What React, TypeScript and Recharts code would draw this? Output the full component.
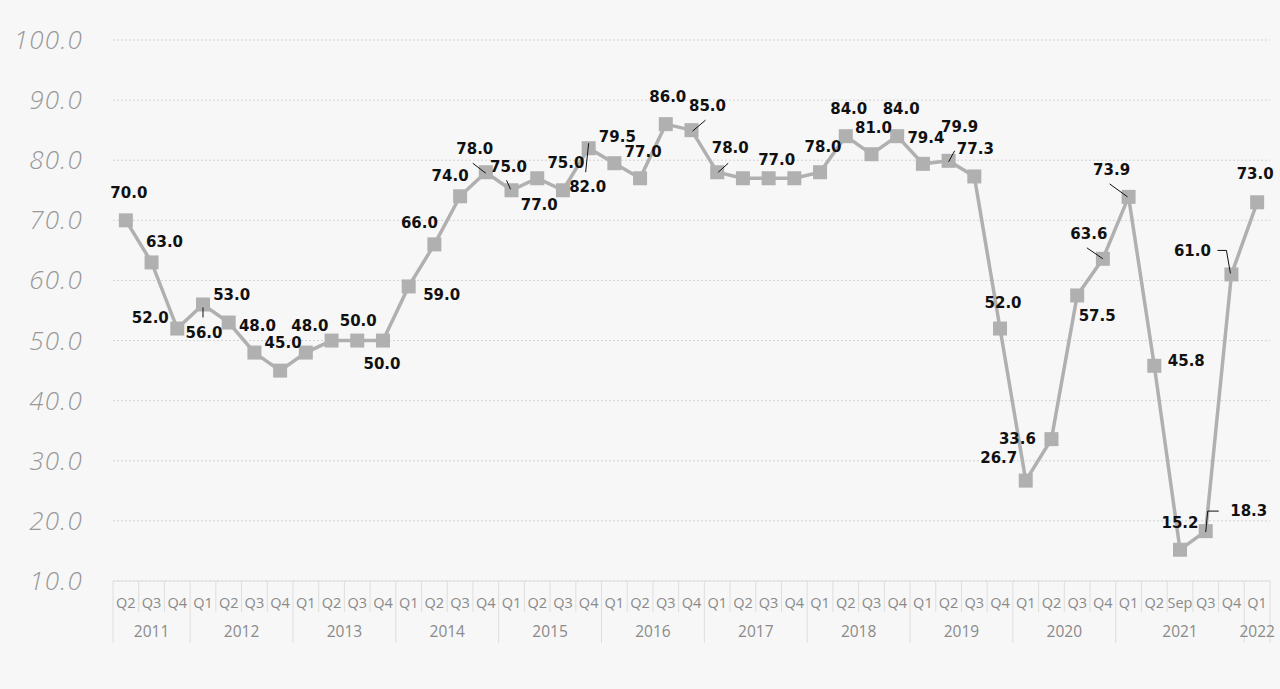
import { LineChart, Line, XAxis, YAxis, CartesianGrid } from 'recharts';

const quarters = [
  'Q2', 'Q3', 'Q4',
  'Q1', 'Q2', 'Q3', 'Q4',
  'Q1', 'Q2', 'Q3', 'Q4',
  'Q1', 'Q2', 'Q3', 'Q4',
  'Q1', 'Q2', 'Q3', 'Q4',
  'Q1', 'Q2', 'Q3', 'Q4',
  'Q1', 'Q2', 'Q3', 'Q4',
  'Q1', 'Q2', 'Q3', 'Q4',
  'Q1', 'Q2', 'Q3', 'Q4',
  'Q1', 'Q2', 'Q3', 'Q4',
  'Q1', 'Q2', 'Sep', 'Q3', 'Q4',
  'Q1',
];

const years = [
  '2011', '2011', '2011',
  '2012', '2012', '2012', '2012',
  '2013', '2013', '2013', '2013',
  '2014', '2014', '2014', '2014',
  '2015', '2015', '2015', '2015',
  '2016', '2016', '2016', '2016',
  '2017', '2017', '2017', '2017',
  '2018', '2018', '2018', '2018',
  '2019', '2019', '2019', '2019',
  '2020', '2020', '2020', '2020',
  '2021', '2021', '2021', '2021', '2021',
  '2022',
];

const values = [
  70.0, 63.0, 52.0,
  56.0, 53.0, 48.0, 45.0,
  48.0, 50.0, 50.0, 50.0,
  59.0, 66.0, 74.0, 78.0,
  75.0, 77.0, 75.0, 82.0,
  79.5, 77.0, 86.0, 85.0,
  78.0, 77.0, 77.0, 77.0,
  78.0, 84.0, 81.0, 84.0,
  79.4, 79.9, 77.3, 52.0,
  26.7, 33.6, 57.5, 63.6,
  73.9, 45.8, 15.2, 18.3, 61.0,
  73.0,
];

const yTicks = [10, 20, 30, 40, 50, 60, 70, 80, 90, 100];

// label placement (offset of label centre from the marker), null = hidden
const labelOffsets: ([number, number] | null)[] = [
  [3, -27], [13, -20], [-27, -11],
  [1, 29], [3, -28], [3, -27], [3, -28],
  [4, -27], null, [1, -20], [-1, 23],
  [33, 9], [-15, -21], [-10, -20], [-11, -23],
  [-3, -23], [2, 27], [3, -27], [-1, 39],
  [3, -26], [3, -26], [2, -27], [16, -24],
  [13, -24], null, [8, -18], null,
  [3, -25], [3, -27], [2, -26], [4, -27],
  [3, -26], [11, -34], [1, -27], [3, -26],
  [-27, -23], [-34, 0], [20, 21], [-14, -25],
  [-17, -27], [32, -5], [0, -27], [43, -20], [-39, -23],
  [-2, -28],
];

// leader lines, points relative to the marker
const leaders: Record<number, [number, number][]> = {
  3: [[0, 3], [0, 13]],
  14: [[-13, -9], [0, 1]],
  15: [[-5, -10], [-1, -1]],
  18: [[0, -5], [-3, 24]],
  22: [[1, 1], [14, -10]],
  23: [[1, 0], [11, -9]],
  32: [[0, 1], [6, -10]],
  38: [[-16, -11], [0, 0]],
  39: [[-19, -13], [-1, 0]],
  42: [[0, 1], [2, -20], [13, -20]],
  43: [[-14, -24], [-5, -24], [-1, -1]],
};

const data = values.map((v, i) => ({ key: `${years[i]}-${quarters[i]}-${i}`, q: quarters[i], year: years[i], value: v }));

const WIDTH = 1280;
const HEIGHT = 689;
const PLOT_LEFT = 113;
const PLOT_RIGHT = 1270;
const PLOT_BOTTOM = 581;
const BAND = (PLOT_RIGHT - PLOT_LEFT) / values.length;
const GRAY = '#b0b0b0';
const LINE_LIGHT = '#dedede';

const YTick = ({ y, payload }: any) => (
  <text
    x={83}
    y={y + 9}
    textAnchor="end"
    fontFamily="'Open Sans', sans-serif"
    fontStyle="italic"
    fontWeight={300}
    fontSize={26}
    letterSpacing={1.2}
    fill="#999999"
  >
    {payload.value.toFixed(1)}
  </text>
);

const XTick = ({ x, payload }: any) => {
  const i = payload.index;
  const left = x - BAND / 2;
  const yearStart = i === 0 || years[i] !== years[i - 1];
  let yearLabel = null;
  if (yearStart) {
    let n = 0;
    while (i + n < years.length && years[i + n] === years[i]) n++;
    yearLabel = (
      <text x={left + (n * BAND) / 2} y={637} textAnchor="middle" fontFamily="'Open Sans', sans-serif" fontSize={15.5} fill="#8a8a8a">
        {years[i]}
      </text>
    );
  }
  return (
    <g>
      <line x1={left} x2={left} y1={PLOT_BOTTOM} y2={yearStart ? 643 : 612} stroke={LINE_LIGHT} strokeWidth={1} />
      {i === years.length - 1 && (
        <line x1={left + BAND} x2={left + BAND} y1={PLOT_BOTTOM} y2={643} stroke={LINE_LIGHT} strokeWidth={1} />
      )}
      <text x={x} y={607.5} textAnchor="middle" fontFamily="'Open Sans', sans-serif" fontSize={14.5} fill="#8a8a8a">
        {quarters[i]}
      </text>
      {yearLabel}
    </g>
  );
};

const SquareDot = ({ cx, cy, index }: any) => (
  <rect key={`dot-${index}`} x={cx - 7} y={cy - 7} width={14} height={14} fill={GRAY} />
);

const ValueLabel = ({ x, y, index, value }: any) => {
  const off = labelOffsets[index];
  if (!off) return <g key={`lbl-${index}`} />;
  const lead = leaders[index];
  return (
    <g key={`lbl-${index}`}>
      {lead && (
        <polyline
          points={lead.map(([dx, dy]) => `${x + dx},${y + dy}`).join(' ')}
          fill="none"
          stroke="#111"
          strokeWidth={1}
        />
      )}
      <text
        x={x + off[0]}
        y={y + off[1] + 5}
        textAnchor="middle"
        fontFamily="'DejaVu Sans', Verdana, sans-serif"
        fontWeight="bold"
        fontSize={15}
        fill="#111"
      >
        {Number(value).toFixed(1)}
      </text>
    </g>
  );
};

export default function App() {
  return (
    <div style={{ position: 'absolute', left: 0, top: 0, width: WIDTH, height: HEIGHT, background: '#f7f7f7' }}>
      <LineChart width={WIDTH} height={HEIGHT} data={data} margin={{ top: 40, right: WIDTH - PLOT_RIGHT, bottom: 0, left: 0 }}>
        <CartesianGrid vertical={false} stroke="#d2d2d2" strokeDasharray="2 2" />
        <XAxis
          dataKey="key"
          interval={0}
          height={HEIGHT - PLOT_BOTTOM}
          padding={{ left: BAND / 2, right: BAND / 2 }}
          tickLine={false}
          axisLine={{ stroke: LINE_LIGHT }}
          tick={<XTick />}
        />
        <YAxis
          width={PLOT_LEFT}
          domain={[10, 100]}
          ticks={yTicks}
          interval={0}
          tickLine={false}
          axisLine={false}
          tick={<YTick />}
        />
        <Line
          type="linear"
          dataKey="value"
          stroke={GRAY}
          strokeWidth={3.5}
          dot={SquareDot}
          activeDot={false}
          label={ValueLabel}
          isAnimationActive={false}
        />
      </LineChart>
    </div>
  );
}
